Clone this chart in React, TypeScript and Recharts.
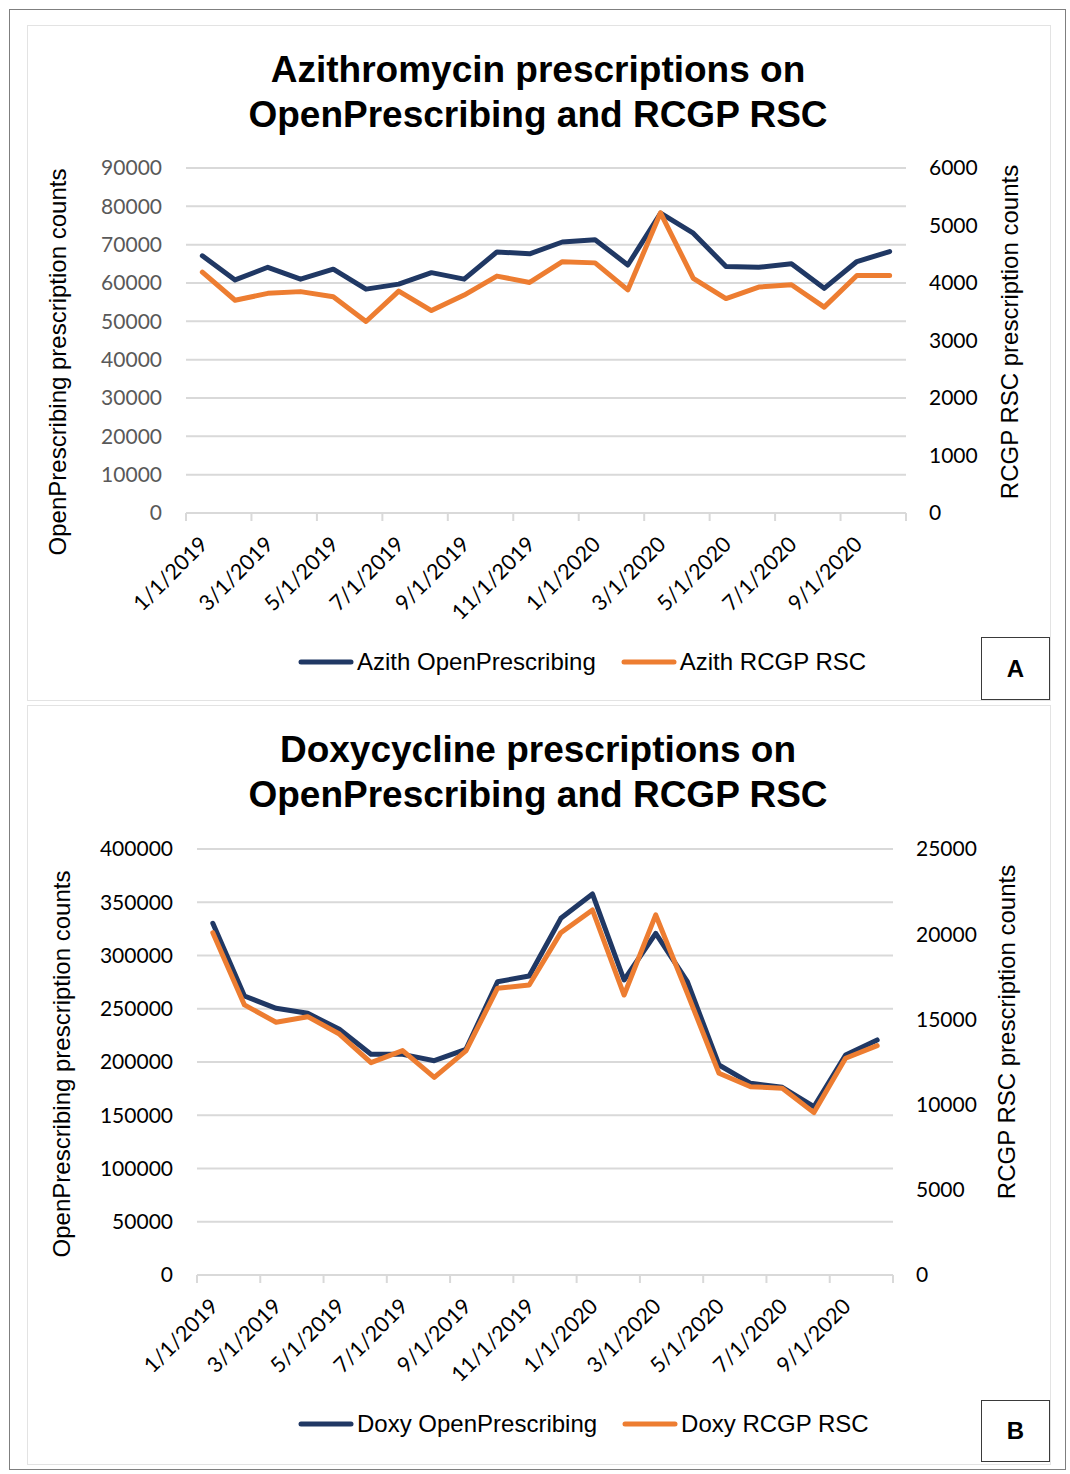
import React from 'react';
import { LineChart, Line, XAxis, YAxis, CartesianGrid, Legend } from 'recharts';

const months = [
  '1/1/2019', '2/1/2019', '3/1/2019', '4/1/2019', '5/1/2019', '6/1/2019',
  '7/1/2019', '8/1/2019', '9/1/2019', '10/1/2019', '11/1/2019', '12/1/2019',
  '1/1/2020', '2/1/2020', '3/1/2020', '4/1/2020', '5/1/2020', '6/1/2020',
  '7/1/2020', '8/1/2020', '9/1/2020', '10/1/2020',
];

const azithOpenPrescribing = [
  67100, 60800, 64100, 61000, 63600, 58400, 59700, 62700, 61000, 68100, 67600,
  70700, 71300, 64700, 78200, 73000, 64300, 64100, 65000, 58600, 65600, 68200,
];
const azithRcgpRsc = [
  4190, 3700, 3820, 3850, 3760, 3330, 3860, 3520, 3790, 4120, 4010,
  4370, 4350, 3880, 5220, 4080, 3730, 3930, 3970, 3580, 4130, 4130,
];
const doxyOpenPrescribing = [
  330200, 262000, 250400, 245700, 230700, 207200, 207200, 201200, 211900, 275400, 280800,
  334900, 357800, 277000, 320800, 275400, 197200, 180000, 176200, 158000, 206600, 220700,
];
const doxyRcgpRsc = [
  20090, 15850, 14830, 15160, 14140, 12460, 13170, 11600, 13150, 16830, 17020,
  20090, 21420, 16430, 21130, 16530, 11840, 11050, 10960, 9530, 12720, 13460,
];

const azithLeftTicks = [0, 10000, 20000, 30000, 40000, 50000, 60000, 70000, 80000, 90000];
const azithRightTicks = [0, 1000, 2000, 3000, 4000, 5000, 6000];
const doxyLeftTicks = [0, 50000, 100000, 150000, 200000, 250000, 300000, 350000, 400000];
const doxyRightTicks = [0, 5000, 10000, 15000, 20000, 25000];

const BLUE = '#203864';
const ORANGE = '#ed7d31';
const GRID = '#d9d9d9';
const ARIAL = '"Liberation Sans", Arial, sans-serif';
const TICKFONT = 'Lato, "Open Sans", sans-serif';

// tick positions: boundaries every two months (marks) and category centres (labels)
const xTicks: number[] = [];
months.forEach((_, i) => {
  if (i % 2 === 0) {
    xTicks.push(i);
    xTicks.push(i + 0.5);
  }
});
xTicks.push(months.length);

const buildData = (a: number[], b: number[]) =>
  months.map((m, i) => ({ month: m, pos: i + 0.5, op: a[i], rsc: b[i] }));

const azithData = buildData(azithOpenPrescribing, azithRcgpRsc);
const doxyData = buildData(doxyOpenPrescribing, doxyRcgpRsc);

const DateTick = (props: any) => {
  const { x, y, payload } = props;
  const v = payload.value as number;
  if (Number.isInteger(v)) {
    return <line x1={x} y1={y} x2={x} y2={y + 8} stroke={GRID} strokeWidth={2} />;
  }
  const label = months[Math.floor(v)];
  const ax = x + 1;
  const ay = y + 27;
  return (
    <text
      x={ax}
      y={ay}
      transform={`rotate(-45, ${ax}, ${ay})`}
      textAnchor="end"
      dominantBaseline="central"
      fontFamily={TICKFONT}
      fontSize={21.5}
      fill="#000"
    >
      {label}
    </text>
  );
};

const renderLegend = (props: any) => {
  const { payload } = props;
  return (
    <div style={{ display: 'flex', alignItems: 'center', gap: 25, fontFamily: ARIAL, fontSize: 24, color: '#000', lineHeight: '28px' }}>
      {(payload || []).map((p: any) => (
        <div key={p.value} style={{ display: 'flex', alignItems: 'center' }}>
          <svg width={56} height={10}>
            <line x1={3} y1={5} x2={53} y2={5} stroke={p.color} strokeWidth={5} strokeLinecap="round" />
          </svg>
          <span style={{ marginLeft: 3, whiteSpace: 'nowrap' }}>{p.value}</span>
        </div>
      ))}
    </div>
  );
};

type PanelProps = {
  top: number;
  height: number;
  data: any[];
  leftTicks: number[];
  rightTicks: number[];
  leftColor: string;
  rightColor: string;
  margin: { top: number; right: number; bottom: number; left: number };
  nameOp: string;
  nameRsc: string;
  legendTop: number;
};

const Panel = (p: PanelProps) => (
  <div style={{ position: 'absolute', left: 0, top: p.top }}>
    <LineChart width={1070} height={p.height} data={p.data} margin={p.margin}>
      <CartesianGrid yAxisId="left" vertical={false} stroke={GRID} strokeWidth={2} />
      <XAxis
        dataKey="pos"
        type="number"
        domain={[0, months.length]}
        ticks={xTicks}
        interval={0}
        tick={<DateTick />}
        tickLine={false}
        tickSize={0}
        tickMargin={0}
        height={100}
        axisLine={{ stroke: GRID, strokeWidth: 2 }}
      />
      <YAxis
        yAxisId="left"
        orientation="left"
        width={80}
        domain={[p.leftTicks[0], p.leftTicks[p.leftTicks.length - 1]]}
        ticks={p.leftTicks}
        interval={0}
        axisLine={false}
        tickLine={false}
        tickSize={0}
        tickMargin={24}
        tick={{ fill: p.leftColor, fontSize: 21, fontFamily: TICKFONT }}
      />
      <YAxis
        yAxisId="right"
        orientation="right"
        width={80}
        domain={[p.rightTicks[0], p.rightTicks[p.rightTicks.length - 1]]}
        ticks={p.rightTicks}
        interval={0}
        axisLine={false}
        tickLine={false}
        tickSize={0}
        tickMargin={23}
        tick={{ fill: p.rightColor, fontSize: 21, fontFamily: TICKFONT }}
      />
      <Line
        yAxisId="left"
        type="linear"
        dataKey="op"
        name={p.nameOp}
        stroke={BLUE}
        strokeWidth={5}
        dot={false}
        strokeLinejoin="round"
        strokeLinecap="round"
        isAnimationActive={false}
      />
      <Line
        yAxisId="right"
        type="linear"
        dataKey="rsc"
        name={p.nameRsc}
        stroke={ORANGE}
        strokeWidth={5}
        dot={false}
        strokeLinejoin="round"
        strokeLinecap="round"
        isAnimationActive={false}
      />
      <Legend
        verticalAlign="middle"
        layout="horizontal"
        content={renderLegend}
        wrapperStyle={{ left: 298, top: p.legendTop, width: 620, height: 28 }}
      />
    </LineChart>
  </div>
);

const vLabel = (text: string, cx: number, cy: number) => (
  <div
    style={{
      position: 'absolute',
      left: cx,
      top: cy,
      transform: 'translate(-50%, -50%) rotate(-90deg)',
      whiteSpace: 'nowrap',
      fontFamily: ARIAL,
      fontSize: 24,
      color: '#000',
      lineHeight: '28px',
    }}
  >
    {text}
  </div>
);

const title = (l1: string, l2: string, top: number) => (
  <div
    style={{
      position: 'absolute',
      left: 0,
      top,
      width: 1076,
      textAlign: 'center',
      fontFamily: ARIAL,
      fontWeight: 'bold',
      fontSize: 37,
      lineHeight: '45px',
      color: '#000',
    }}
  >
    <div>{l1}</div>
    <div>{l2}</div>
  </div>
);

const tagBox = (t: string, left: number, top: number, w: number, h: number) => (
  <div
    style={{
      position: 'absolute',
      left,
      top,
      width: w,
      height: h,
      boxSizing: 'border-box',
      border: '1.5px solid #3a3a3a',
      background: '#fff',
      display: 'flex',
      alignItems: 'center',
      justifyContent: 'center',
      fontFamily: ARIAL,
      fontWeight: 'bold',
      fontSize: 24,
      color: '#000',
    }}
  >
    {t}
  </div>
);

export default function App() {
  return (
    <div style={{ position: 'absolute', left: 0, top: 0, width: 1070, height: 1474, background: '#fff', overflow: 'hidden' }}>
      <div style={{ position: 'absolute', left: 9, top: 9, width: 1057, height: 1461, border: '1px solid #7f7f7f', boxSizing: 'border-box' }} />
      <div style={{ position: 'absolute', left: 27, top: 25, width: 1024, height: 676, border: '1.5px solid #e3e3e3', boxSizing: 'border-box' }} />
      <div style={{ position: 'absolute', left: 27, top: 705, width: 1024, height: 760, border: '1.5px solid #e3e3e3', boxSizing: 'border-box' }} />

      {title('Azithromycin prescriptions on', 'OpenPrescribing and RCGP RSC', 47)}
      <Panel
        top={0}
        height={700}
        data={azithData}
        leftTicks={azithLeftTicks}
        rightTicks={azithRightTicks}
        leftColor="#595959"
        rightColor="#000"
        margin={{ top: 168, right: 84, bottom: 87, left: 106 }}
        nameOp="Azith OpenPrescribing"
        nameRsc="Azith RCGP RSC"
        legendTop={648}
      />
      {vLabel('OpenPrescribing prescription counts', 58, 362)}
      {vLabel('RCGP RSC prescription counts', 1010, 332)}
      {tagBox('A', 981, 637, 69, 63)}

      {title('Doxycycline prescriptions on', 'OpenPrescribing and RCGP RSC', 727)}
      <Panel
        top={705}
        height={760}
        data={doxyData}
        leftTicks={doxyLeftTicks}
        rightTicks={doxyRightTicks}
        leftColor="#000"
        rightColor="#000"
        margin={{ top: 144, right: 97, bottom: 90, left: 117 }}
        nameOp="Doxy OpenPrescribing"
        nameRsc="Doxy RCGP RSC"
        legendTop={705}
      />
      {vLabel('OpenPrescribing prescription counts', 62, 1064)}
      {vLabel('RCGP RSC prescription counts', 1007, 1032)}
      {tagBox('B', 981, 1400, 69, 62)}
    </div>
  );
}
